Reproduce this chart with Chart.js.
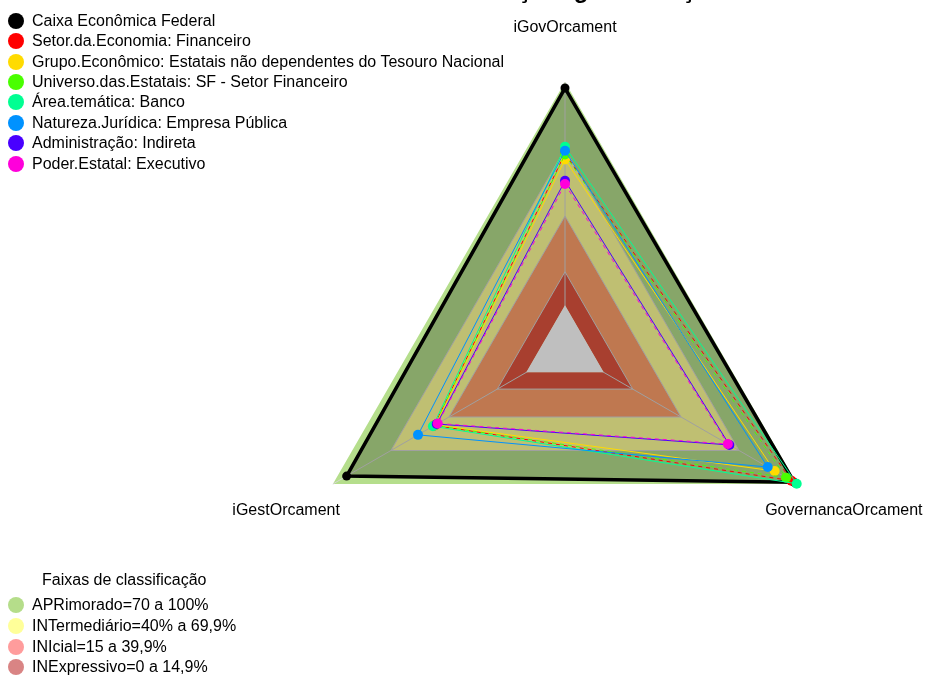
<!DOCTYPE html>
<html>
<head>
<meta charset="utf-8">
<script src="https://cdn.jsdelivr.net/npm/chart.js@4/dist/chart.umd.min.js"></script>
<style>
  body { margin: 0; background: #fff; font-family: "Liberation Sans", Arial, sans-serif; }
  #wrap { position: relative; width: 925px; height: 675px; overflow: hidden; }
  #grafico { position: absolute; left: 0; top: 0; }
  .linha { position: absolute; height: 20px; line-height: 20px; font-size: 16px; color: #000; white-space: nowrap; }
  .linha .bola { position: absolute; top: 2px; width: 16px; height: 16px; border-radius: 50%; }
  .linha span { position: absolute; left: 24px; }
</style>
</head>
<body>
<div id="wrap">
  <canvas id="grafico" width="925" height="675"></canvas>
  <div id="legendaSeries"></div>
  <div id="legendaFaixas"></div>
</div>
<script>
const titulo = "Avaliação: gestão orçamentária";

const eixos = ["iGovOrcament", "GovernancaOrcament", "iGestOrcament"];

const nomesSeries = [
  "Caixa Econômica Federal",
  "Setor.da.Economia: Financeiro",
  "Grupo.Econômico: Estatais não dependentes do Tesouro Nacional",
  "Universo.das.Estatais: SF - Setor Financeiro",
  "Área.temática: Banco",
  "Natureza.Jurídica: Empresa Pública",
  "Administração: Indireta",
  "Poder.Estatal: Executivo"
];
const coresSeries = ["#000000", "#FF0000", "#FFDB00", "#49FF00", "#00FF92", "#0092FF", "#4900FF", "#FF00DB"];

// valores na ordem dos eixos: iGovOrcament, GovernancaOrcament, iGestOrcament
const caixa = [97.3, 98.5, 92.9];
const setorEconomia = [68, 97, 47.5];
const grupoEconomico = [65.3, 88.4, 47];
const universoEstatais = [67.5, 94.3, 47.5];
const areaTematica = [71, 99.8, 48.3];
const naturezaJuridica = [69.2, 84.8, 56];
const administracao = [55.8, 65, 46.3];
const poderEstatal = [54.3, 64.2, 45.8];

const valoresSeries = [caixa, setorEconomia, grupoEconomico, universoEstatais, areaTematica, naturezaJuridica, administracao, poderEstatal];

// faixas de classificação (limite superior de cada faixa)
const nomesFaixas = ["APRimorado=70 a 100%", "INTermediário=40% a 69,9%", "INIcial=15 a 39,9%", "INExpressivo=0 a 14,9%"];
const limitesFaixas = [100, 70, 40, 15];
const coresFaixas = ["#b5de8c", "#ffff99", "#ffa06b", "#e0553f"];
const coresLegendaFaixas = ["#b5dd8a", "#ffff99", "#ff9c9c", "#d98484"];

// tracejado de cada série
const tracos = [[], [4, 4], [], [4, 4], [], [], [], [4, 4]];

const centroX = 565;
const centroY = 350;
const raio = 268;

const datasets = [];

limitesFaixas.forEach((lim, i) => {
  datasets.push({
    label: nomesFaixas[i],
    data: eixos.map(() => lim),
    backgroundColor: coresFaixas[i],
    borderWidth: 0,
    pointRadius: 0,
    fill: "origin",
    order: 100 - i
  });
});

// miolo do gráfico (abaixo de zero)
datasets.push({
  label: "centro",
  data: eixos.map(() => 0),
  backgroundColor: "#ffffff",
  borderWidth: 0,
  pointRadius: 0,
  fill: "start",
  order: 90
});

nomesSeries.forEach((nome, i) => {
  datasets.push({
    label: nome,
    data: valoresSeries[i],
    borderColor: coresSeries[i],
    backgroundColor: i === 0 ? "rgba(0,0,0,0.25)" : coresSeries[i],
    borderWidth: i === 0 ? 3.5 : 1,
    borderDash: tracos[i],
    pointRadius: i === 0 ? 4.5 : 5,
    pointBorderWidth: 0,
    pointBackgroundColor: coresSeries[i],
    pointBorderColor: coresSeries[i],
    fill: i === 0 ? "start" : false,
    order: nomesSeries.length - i
  });
});

const ultimaFaixa = limitesFaixas.length - 1;

const gradeSobreFaixas = {
  id: "gradeSobreFaixas",
  afterDatasetDraw(chart, args) {
    if (args.index === ultimaFaixa) {
      chart.scales.r.drawGrid(chart.chartArea);
    }
  }
};

const textos = {
  id: "textos",
  afterDraw(chart) {
    const ctx = chart.ctx;
    const escala = chart.scales.r;
    ctx.save();
    ctx.fillStyle = "#000";
    ctx.font = '16px "Liberation Sans", Arial, sans-serif';
    ctx.textAlign = "center";
    ctx.textBaseline = "middle";
    eixos.forEach((nome, i) => {
      const p = escala.getPointPosition(i, 322);
      ctx.fillText(nome, p.x, p.y);
    });
    ctx.font = 'bold 24px "Liberation Sans", Arial, sans-serif';
    ctx.textAlign = "left";
    ctx.textBaseline = "alphabetic";
    ctx.fillText(titulo, 448, -2);
    ctx.restore();
  }
};

new Chart(document.getElementById("grafico"), {
  type: "radar",
  data: {
    labels: eixos,
    datasets: datasets
  },
  options: {
    responsive: false,
    devicePixelRatio: 1,
    animation: false,
    events: [],
    elements: {
      line: { tension: 0 }
    },
    plugins: {
      legend: { display: false },
      tooltip: { enabled: false }
    },
    scales: {
      r: {
        min: -20,
        max: 100,
        ticks: { display: false },
        afterBuildTicks: function (escala) {
          escala.ticks = [15, 40, 70].map(v => ({ value: v }));
        },
        afterFit: function (escala) {
          escala.xCenter = centroX;
          escala.yCenter = centroY;
          escala.drawingArea = raio;
        },
        grid: { color: "#d6d6d6", lineWidth: 1 },
        angleLines: { color: "#d6d6d6", lineWidth: 1 },
        pointLabels: { display: false }
      }
    }
  },
  plugins: [gradeSobreFaixas, textos]
});

function montarLegenda(alvo, nomes, cores, y0, passo) {
  const caixaLegenda = document.getElementById(alvo);
  nomes.forEach((nome, i) => {
    const linha = document.createElement("div");
    linha.className = "linha";
    linha.style.left = "8px";
    linha.style.top = (y0 + i * passo - 10) + "px";
    linha.innerHTML = `<div class="bola" style="background:${cores[i]}"></div><span>${nome}</span>`;
    caixaLegenda.appendChild(linha);
  });
}

montarLegenda("legendaSeries", nomesSeries, coresSeries, 20.7, 20.4);

const tituloFaixas = document.createElement("div");
tituloFaixas.className = "linha";
tituloFaixas.style.left = "42px";
tituloFaixas.style.top = "570px";
tituloFaixas.textContent = "Faixas de classificação";
document.getElementById("legendaFaixas").appendChild(tituloFaixas);

montarLegenda("legendaFaixas", nomesFaixas, coresLegendaFaixas, 605, 20.8);
</script>
</body>
</html>
